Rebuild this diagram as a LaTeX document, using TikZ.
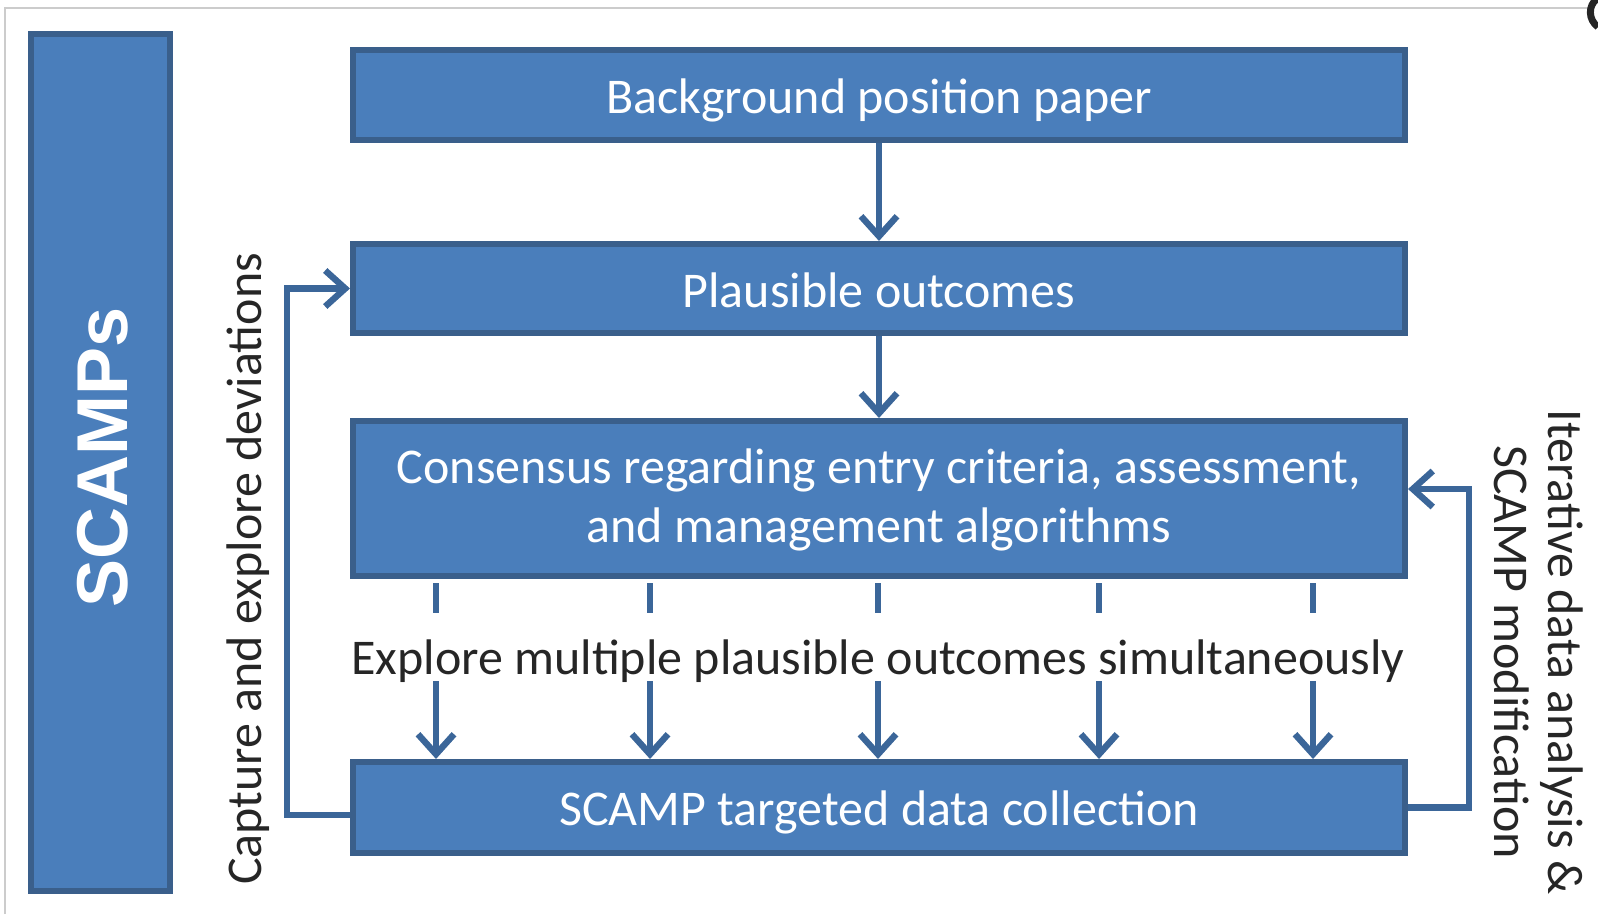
\documentclass[tikz,border=0pt]{standalone}
\usepackage{fontspec}
\setmainfont{Carlito}
\newfontfamily\arialfont{Liberation Sans}
\usetikzlibrary{arrows.meta,calc}
\definecolor{boxfill}{HTML}{4A7EBB}
\definecolor{boxdraw}{HTML}{3A5F8B}
\definecolor{arrowc}{HTML}{3B6699}
\definecolor{txt}{HTML}{262626}
\newcommand{\lowr}[2]{\raisebox{-#1}[\height][\depth]{#2}}
\begin{document}
\begin{tikzpicture}[x=0.5pt,y=-0.5pt,
  blk/.style={draw=boxdraw, line width=3pt, fill=boxfill, text=white, inner sep=0pt,
    font=\fontsize{25}{29.5}\selectfont, align=center, minimum width=526pt},
  conn/.style={draw=arrowc, line width=3.2pt},
  arr/.style={conn, -{Straight Barb[length=10pt,width=18pt]}},
  lbl/.style={text=txt, inner sep=0pt, font=\fontsize{25}{27}\selectfont}]
\useasboundingbox (0,0) rectangle (1598,914);
% frame
\draw[black!20, line width=1pt] (5,914) -- (5,8) -- (1588,8);
\draw[black!85, line width=3.5pt] (1597,-1) .. controls (1588,5) and (1588,20) .. (1598,27);
% boxes
\node[blk, minimum height=45pt] (bg) at (879,95) {\lowr{2.5pt}{Background position paper}};
\node[blk, minimum height=44.5pt] (pl) at (879,288.5) {\lowr{0.7pt}{Plausible outcomes}};
\node[blk, minimum height=77.5pt] (co) at (879,498.5) {\lowr{1.5pt}{\begin{tabular}{@{}c@{}}Consensus regarding entry criteria, assessment,\\and management algorithms\end{tabular}}};
\node[blk, minimum height=45.5pt] (sc) at (879,807.5) {\lowr{2.5pt}{SCAMP targeted data collection}};
\node[blk, minimum width=69.5pt, minimum height=428.5pt] (sp) at (100.5,462.5) {};
\node[rotate=90, text=white, inner sep=0pt, font=\arialfont\bfseries\fontsize{36}{40}\selectfont] (spt) at (103,457.5) {SCAMPs};
% labels
\node[lbl, anchor=base] (ex) at (878,674) {Explore multiple plausible outcomes simultaneously};
\node[lbl, rotate=90] (cap) at (248,569) {Capture and explore deviations};
\node[lbl, rotate=-90, align=center] (it) at (1539,652) {Iterative data analysis \&\\SCAMP modification};
% arrows
\draw[arr] (bg) -- (pl);
\draw[arr] (pl) -- (co);
\foreach \x [count=\i] in {436,650,878,1099,1313} {
  \coordinate (t\i) at (\x,583);
  \coordinate (m\i) at (\x,613);
  \coordinate (b\i) at (\x,681);
  \draw[conn] (t\i) -- (m\i);
  \draw[arr] (b\i) -- (b\i |- sc.north);
}
\draw[arr] ([yshift=-3.75pt]sc.west) -- ++(-63,0) |- (pl.west);
\draw[arr] (sc.east) -- ++(61,0) |- ([yshift=4.75pt]co.east);
\end{tikzpicture}
\end{document}
